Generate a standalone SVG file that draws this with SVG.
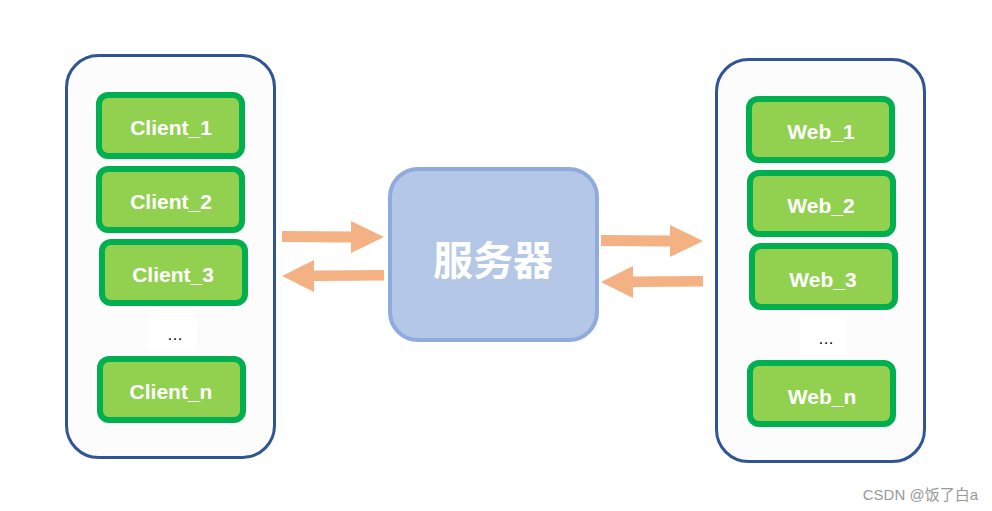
<svg xmlns="http://www.w3.org/2000/svg" width="992" height="511" viewBox="0 0 992 511">
<style>
.cont{fill:#FCFCFC;stroke:#2F5597;stroke-width:3}
.item{fill:#92D050;stroke:#00B050;stroke-width:6}
.lbl{font-family:"Liberation Sans",Arial,sans-serif;font-weight:bold;font-size:21px;fill:#fff;text-anchor:middle;dominant-baseline:central}
.dots{font-family:"Liberation Sans",Arial,sans-serif;font-size:16px;fill:#000;text-anchor:middle}
.arr{fill:#F4B183}
</style>
<rect width="992" height="511" fill="#fff"/>
<g id="clients">
<rect class="cont" x="66.5" y="55.5" width="208" height="402" rx="32"/>
</g>
<g id="client_1"><rect class="item" x="99" y="95" width="143" height="61" rx="9"/><text class="lbl" x="171" y="127">Client_1</text></g>
<g id="client_2"><rect class="item" x="99" y="169" width="143" height="61" rx="9"/><text class="lbl" x="171" y="201">Client_2</text></g>
<g id="client_3"><rect class="item" x="102" y="242" width="143" height="61" rx="9"/><text class="lbl" x="173" y="274">Client_3</text></g>
<g id="client_dots"><rect x="148" y="311" width="49" height="39" fill="#fff"/><text class="dots" x="175" y="340">…</text></g>
<g id="client_n"><rect class="item" x="100" y="359" width="143" height="61" rx="9"/><text class="lbl" x="171" y="391">Client_n</text></g>

<g id="webs">
<rect class="cont" x="716.5" y="59.5" width="208" height="402" rx="32"/>
</g>
<g id="web_1"><rect class="item" x="749" y="99" width="143" height="61" rx="9"/><text class="lbl" x="821" y="131">Web_1</text></g>
<g id="web_2"><rect class="item" x="750" y="173" width="143" height="61" rx="9"/><text class="lbl" x="821" y="205">Web_2</text></g>
<g id="web_3"><rect class="item" x="752" y="246" width="143" height="61" rx="9"/><text class="lbl" x="823" y="279">Web_3</text></g>
<g id="web_dots"><rect x="800" y="315" width="46" height="40" fill="#fff"/><text class="dots" x="826" y="344">…</text></g>
<g id="web_n"><rect class="item" x="750" y="363" width="143" height="61" rx="9"/><text class="lbl" x="822" y="396">Web_n</text></g>

<g id="server">
<rect x="390" y="169" width="207" height="171" rx="28" fill="#B4C7E7" stroke="#8FAADC" stroke-width="4"/>
<text x="493" y="258" font-family="'Noto Sans CJK SC',sans-serif" font-weight="bold" font-size="40" fill="#fff" text-anchor="middle" dominant-baseline="central">服务器</text>
</g>

<g id="connectors">
<polygon class="arr" points="282,231 351,231.5 351,221 384,237 351,253 351,242.5 282,242"/>
<polygon class="arr" points="384,270 314,270.5 314,260 282,276 314,292 314,281 384,280.5"/>
<polygon class="arr" points="601,235 670,235.5 670,225 703,241 670,257 670,246.5 601,246"/>
<polygon class="arr" points="703,276 633,276.5 633,266 601,282 633,298 633,287 703,286.5"/>
</g>

<text x="978" y="500" font-family="'Liberation Sans','Noto Sans CJK SC',sans-serif" font-size="15" fill="#999" text-anchor="end">CSDN @饭了白a</text>
</svg>
